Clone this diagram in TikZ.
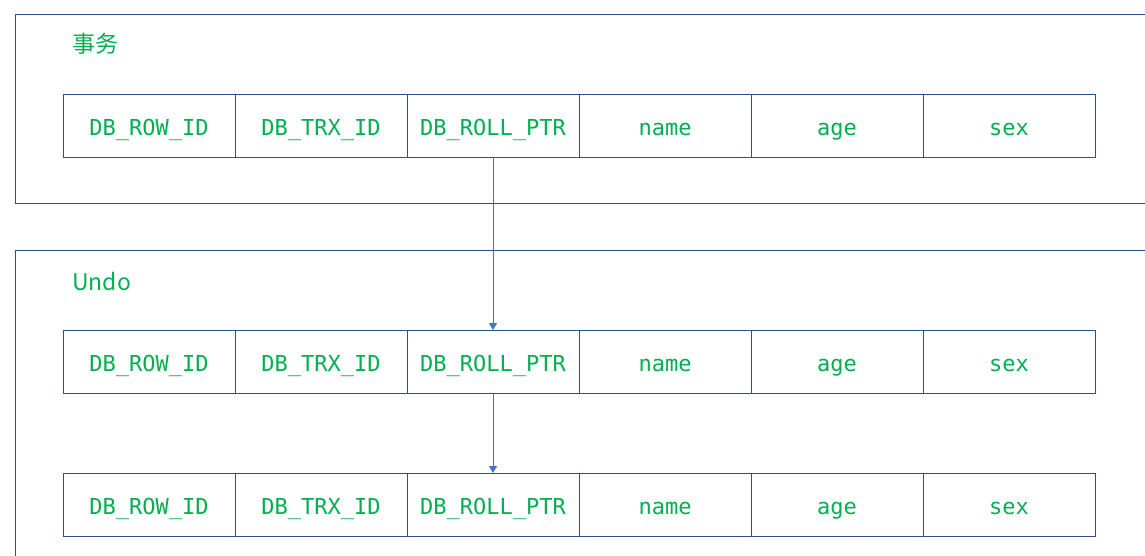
\documentclass[tikz,border=0pt]{standalone}
\usepackage{fontspec}
\setmonofont{DejaVu Sans Mono}
\newfontfamily\cjk{Noto Sans CJK SC}
\usetikzlibrary{arrows.meta}
\definecolor{edge}{HTML}{2F4F8A}
\definecolor{arr}{HTML}{4472C4}
\definecolor{txt}{HTML}{00B050}
\tikzset{
  cell/.style={draw=edge, line width=0.9pt, minimum width=172pt, minimum height=63pt,
    inner sep=0pt, outer sep=0pt, anchor=north west, text=txt,
    text height=24.5pt, text depth=4.4pt,
    font=\ttfamily\fontsize{22}{26}\selectfont},
  frame/.style={draw=edge, line width=0.9pt},
  title/.style={anchor=west, text=txt, inner sep=0pt, font=\cjk\fontsize{23}{27}\selectfont},
  link/.style={draw=arr, line width=1pt, -{Triangle[width=8pt,length=7pt]}}
}
\begin{document}
\begin{tikzpicture}[x=1pt,y=-1pt]
\useasboundingbox (0,0) rectangle (1145,555);
\clip (0,0) rectangle (1145,555);
\fill[white] (0,0) rectangle (1145,555);
\draw[frame] (1160,14) -- (15,14) -- (15,203) -- (1160,203);
\draw[frame] (1160,250) -- (15,250) -- (15,570);
\node[title] (t1) at (72,44) {事务};
\node[title] (t2) at (72,281) {Undo};
\foreach \r/\y in {a/94, b/330, c/473}{
  \foreach \n/\lab [count=\i from 0] in {1/DB\_ROW\_ID, 2/DB\_TRX\_ID, 3/DB\_ROLL\_PTR, 4/name, 5/age, 6/sex}{
    \node[cell] (\r\n) at ({63+172*\i},\y) {\lab};
  }
}
\draw[link] (a3.south) -- (b3.north);
\draw[link] (b3.south) -- (c3.north);
\end{tikzpicture}
\end{document}
